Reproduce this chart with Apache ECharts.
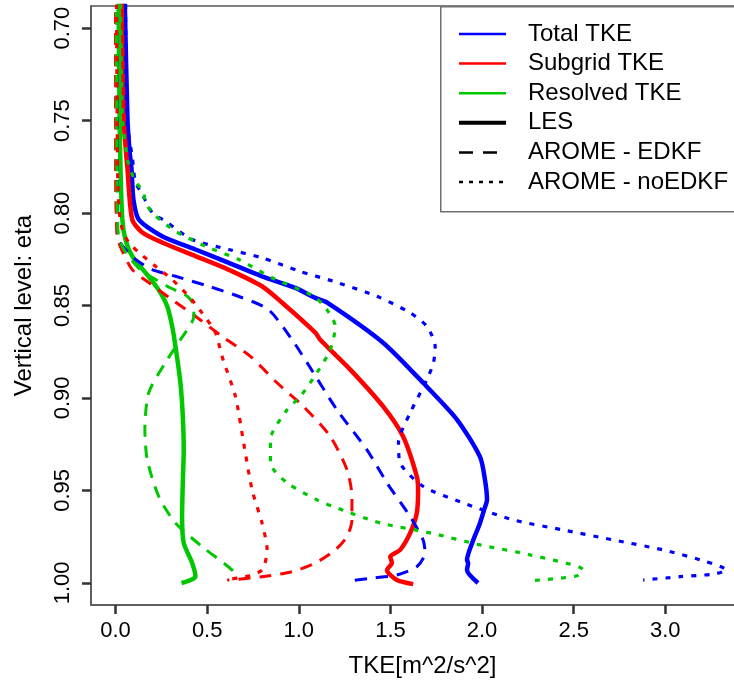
<!DOCTYPE html>
<html><head><meta charset="utf-8">
<script src="https://cdn.jsdelivr.net/npm/echarts@6/dist/echarts.min.js"></script>
<style>html,body{margin:0;padding:0;background:#fff}#c{width:734px;height:682px}</style>
</head><body><div id="c"></div>
<script>
// Tick labels
const xTicks = [0, 0.5, 1.0, 1.5, 2.0, 2.5, 3.0];
const yTicks = [0.70, 0.75, 0.80, 0.85, 0.90, 0.95, 1.00];
const xTitle = 'TKE[m^2/s^2]';
const yTitle = 'Vertical level: eta';
const legendLabels = ['Total TKE', 'Subgrid TKE', 'Resolved TKE', 'LES', 'AROME - EDKF', 'AROME - noEDKF'];

// Profiles as [TKE, eta]
const lesTotal = [[0.049,0.680],[0.065,0.749],[0.076,0.766],[0.087,0.776],[0.098,0.793],[0.127,0.8035],[0.254,0.8125],[0.436,0.8197],[0.618,0.8269],[0.799,0.8342],[0.981,0.8405],[1.090,0.8459],[1.155,0.8484],[1.460,0.8701],[1.678,0.8918],[1.864,0.9118],[1.989,0.9319],[2.016,0.9443],[2.027,0.9551],[2.011,0.9606],[1.989,0.9676],[1.946,0.9784],[1.918,0.9876],[1.924,0.9893],[1.918,0.9931],[1.978,1.0001]];
const lesSubgrid = [[0.033,0.680],[0.044,0.749],[0.065,0.776],[0.091,0.8035],[0.146,0.8105],[0.254,0.8159],[0.436,0.8233],[0.616,0.8306],[0.799,0.8396],[0.908,0.8484],[1.090,0.8647],[1.117,0.8685],[1.281,0.8847],[1.460,0.9046],[1.569,0.9209],[1.644,0.9425],[1.651,0.9497],[1.644,0.9622],[1.608,0.9730],[1.553,0.9822],[1.499,0.9859],[1.508,0.9893],[1.481,0.9931],[1.535,0.9985],[1.624,1.0007]];
const lesResolved = [[0.016,0.680],[0.022,0.749],[0.027,0.776],[0.037,0.8035],[0.054,0.8143],[0.091,0.8233],[0.163,0.8322],[0.234,0.8414],[0.282,0.8504],[0.309,0.8613],[0.327,0.8721],[0.354,0.8918],[0.367,0.9100],[0.372,0.9281],[0.367,0.9459],[0.363,0.9642],[0.372,0.9784],[0.418,0.9893],[0.436,0.9967],[0.360,1.0001]];
const edkfTotal = [[0.005,0.680],[0.009,0.776],[0.009,0.8125],[0.054,0.8197],[0.109,0.8251],[0.200,0.8306],[0.327,0.8342],[0.508,0.8396],[0.670,0.8450],[0.834,0.8522],[0.963,0.8685],[1.045,0.8809],[1.208,0.9064],[1.372,0.9281],[1.481,0.9459],[1.608,0.9642],[1.678,0.9768],[1.689,0.9839],[1.644,0.9913],[1.535,0.9958],[1.406,0.9974],[1.281,0.9989]];
const edkfSubgrid = [[0.0,0.680],[0.0,0.776],[0.009,0.8125],[0.037,0.8206],[0.091,0.8306],[0.181,0.8376],[0.309,0.8469],[0.436,0.8558],[0.581,0.8667],[0.736,0.8775],[0.881,0.8918],[1.025,0.9046],[1.172,0.9209],[1.263,0.9389],[1.290,0.9534],[1.290,0.9660],[1.263,0.9750],[1.199,0.9822],[1.090,0.9893],[0.963,0.9940],[0.799,0.9967],[0.672,0.9981],[0.609,0.9985]];
const edkfResolved = [[0.005,0.680],[0.008,0.7926],[0.016,0.812],[0.045,0.8197],[0.136,0.8306],[0.282,0.8396],[0.391,0.8450],[0.427,0.8504],[0.427,0.8558],[0.354,0.8685],[0.272,0.8809],[0.181,0.8972],[0.160,0.9172],[0.173,0.9335],[0.236,0.9534],[0.327,0.9676],[0.472,0.9804],[0.636,0.9931],[0.654,0.9974]];
const noedkfTotal = [[0.055,0.680],[0.062,0.749],[0.093,0.771],[0.109,0.7834],[0.146,0.7899],[0.200,0.7997],[0.272,0.8044],[0.418,0.8143],[0.617,0.8197],[0.799,0.8242],[1.008,0.8316],[1.188,0.8369],[1.426,0.8450],[1.608,0.8540],[1.699,0.8613],[1.744,0.8721],[1.735,0.8809],[1.699,0.8901],[1.608,0.9080],[1.544,0.9243],[1.553,0.9351],[1.680,0.9479],[1.898,0.9568],[2.171,0.9660],[2.443,0.9714],[2.716,0.9768],[2.988,0.9822],[3.225,0.9886],[3.334,0.9931],[3.261,0.9953],[3.079,0.9967],[2.879,0.9985]];
const noedkfSubgrid = [[0.005,0.680],[0.011,0.776],[0.019,0.798],[0.037,0.8089],[0.072,0.8159],[0.127,0.8213],[0.218,0.8288],[0.309,0.8360],[0.399,0.8450],[0.472,0.8540],[0.545,0.8647],[0.581,0.8775],[0.654,0.8992],[0.699,0.9243],[0.745,0.9497],[0.799,0.9676],[0.827,0.9822],[0.799,0.9931],[0.708,0.9967],[0.617,0.9981]];
const noedkfResolved = [[0.027,0.680],[0.038,0.749],[0.071,0.7737],[0.109,0.7829],[0.153,0.7888],[0.163,0.7943],[0.209,0.8008],[0.327,0.8098],[0.490,0.8179],[0.672,0.8251],[0.854,0.8350],[1.081,0.8450],[1.153,0.8522],[1.199,0.8613],[1.172,0.8739],[1.099,0.8863],[1.008,0.8992],[0.936,0.9064],[0.845,0.9226],[0.845,0.9351],[0.936,0.9459],[1.099,0.9551],[1.190,0.9588],[1.444,0.9676],[1.717,0.9730],[1.989,0.9795],[2.262,0.9849],[2.552,0.9931],[2.516,0.9963],[2.262,0.9989]];

const BLUE = '#0000ff', RED = '#ff0000', GREEN = '#00c800';
const FONT = "'Liberation Sans', Arial, Helvetica, sans-serif";
const AXIS_GREY = '#555';
const TICK_COLOR = '#333';
const STYLES = {
  solid:  { width: 4.5, type: 'solid' },
  dashed: { width: 3, type: [12, 9] },
  dotted: { width: 3.2, type: [5, 8] }
};

function mk(name, data, color, style) {
  const s = STYLES[style];
  return {
    name: name, type: 'line', data: data, showSymbol: false, symbol: 'none',
    smooth: 0.25, clip: true, silent: true,
    lineStyle: { color: color, width: s.width, type: s.type, cap: 'butt', join: 'round' }
  };
}

const series = [
  mk('LES total', lesTotal, BLUE, 'solid'),
  mk('LES subgrid', lesSubgrid, RED, 'solid'),
  mk('LES resolved', lesResolved, GREEN, 'solid'),
  mk('EDKF total', edkfTotal, BLUE, 'dashed'),
  mk('EDKF subgrid', edkfSubgrid, RED, 'dashed'),
  mk('EDKF resolved', edkfResolved, GREEN, 'dashed'),
  mk('noEDKF total', noedkfTotal, BLUE, 'dotted'),
  mk('noEDKF subgrid', noedkfSubgrid, RED, 'dotted'),
  mk('noEDKF resolved', noedkfResolved, GREEN, 'dotted')
];

// Legend drawn as graphic (box anchored top-right of plot)
const legColors = [BLUE, RED, GREEN, '#000', '#000', '#000'];
const legWidths = [2.5, 2.5, 2.5, 4, 2.5, 2.5];
const legDash = ['solid', 'solid', 'solid', 'solid', [14, 10], [4, 6]];
const legendGraphic = [{
  type: 'rect', left: 440, top: 6, shape: { x: 0, y: 0, width: 360, height: 205 },
  style: { fill: '#fff', stroke: '#707070', lineWidth: 1.5 }, z: 50
}];
legendLabels.forEach(function (lab, i) {
  const y = 34 + i * 29.6;
  legendGraphic.push({
    type: 'line', shape: { x1: 459, y1: y, x2: 506, y2: y },
    style: { stroke: legColors[i], lineWidth: legWidths[i], lineDash: legDash[i] === 'solid' ? null : legDash[i] }, z: 51
  });
  legendGraphic.push({
    type: 'text', x: 528, y: y,
    style: { text: lab, fill: '#000', font: '24px ' + FONT, textVerticalAlign: 'middle', verticalAlign: 'middle' }, z: 51
  });
});

const chart = echarts.init(document.getElementById('c'), null, { renderer: 'canvas' });
chart.setOption({
  animation: false,
  backgroundColor: '#fff',
  grid: { left: 91, top: 6, width: 663, height: 599, show: true, borderColor: AXIS_GREY, borderWidth: 1.5,
          backgroundColor: 'transparent', containLabel: false, outerBoundsMode: 'none' },
  xAxis: {
    type: 'value', min: -0.134, max: 3.484, position: 'bottom',
    name: xTitle, nameLocation: 'middle', nameGap: 49,
    nameTextStyle: { fontSize: 24, color: '#000', fontFamily: FONT },
    axisLine: { show: true, onZero: false, lineStyle: { color: AXIS_GREY, width: 1.5 } },
    axisTick: { show: true, length: 9, customValues: xTicks, lineStyle: { color: TICK_COLOR, width: 2.5 } },
    axisLabel: { customValues: xTicks, fontSize: 22, color: '#000', fontFamily: FONT, margin: 15, formatter: function (v) { return v.toFixed(1); } },
    splitLine: { show: false }
  },
  yAxis: {
    type: 'value', inverse: true, min: 0.688, max: 1.012, position: 'left',
    name: yTitle, nameLocation: 'middle', nameGap: 55, nameRotate: 90,
    nameTextStyle: { fontSize: 24, color: '#000', fontFamily: FONT },
    axisLine: { show: true, onZero: false, lineStyle: { color: AXIS_GREY, width: 1.5 } },
    axisTick: { show: true, length: 9, customValues: yTicks, lineStyle: { color: TICK_COLOR, width: 2.5 } },
    axisLabel: { customValues: yTicks, rotate: 90, fontSize: 22, color: '#000', fontFamily: FONT, margin: 17, formatter: function (v) { return v.toFixed(2); } },
    splitLine: { show: false }
  },
  series: series,
  graphic: legendGraphic
});
</script>
</body></html>
